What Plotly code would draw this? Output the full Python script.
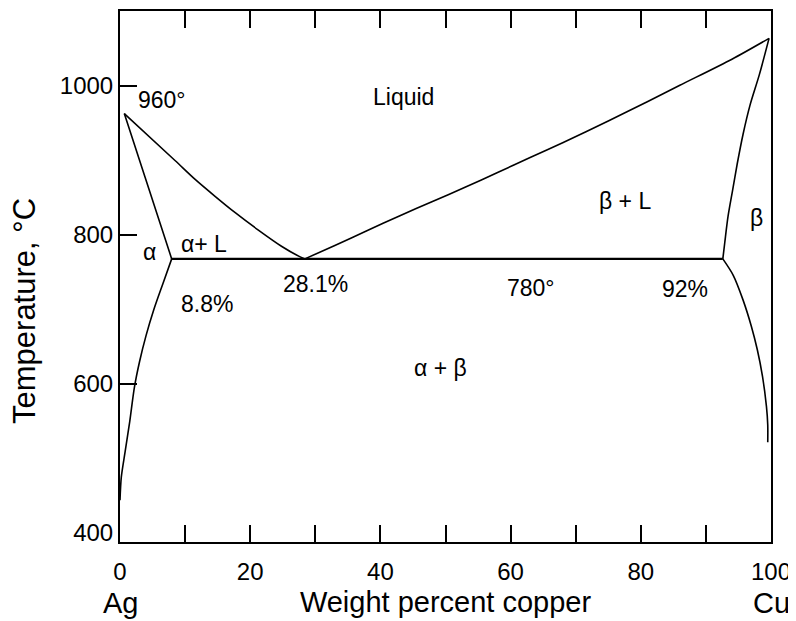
import plotly.graph_objects as go

# ---- data (wt% Cu, temperature °C) ----
ag_liquidus_x = [0.66, 8.45, 11.5, 14.6, 17.7, 21.2, 24.8, 27.6, 28.4]
ag_liquidus_y = [963, 900, 875, 852, 830, 807, 785, 771, 768]

ag_solidus_x = [0.66, 3.84, 7.94]
ag_solidus_y = [963, 878, 768]

ag_solvus_x = [7.94, 6.6, 5.2, 4.0, 3.0, 2.2, 1.5, 0.8, 0.2, 0.0]
ag_solvus_y = [768, 735, 700, 665, 630, 595, 550, 510, 475, 444]

eutectic_x = [7.94, 92.6]
eutectic_y = [768, 768]

cu_liquidus_x = [28.4, 33, 38, 43, 48, 53, 58, 63, 68, 75, 81, 86, 94, 99.7]
cu_liquidus_y = [768, 786, 806, 826, 845, 864, 884, 904, 924, 953, 979, 1001, 1036, 1064]

cu_solidus_x = [99.7, 98.2, 96.8, 95.7, 94.8, 94.1, 93.4, 92.9, 92.6]
cu_solidus_y = [1064, 1015, 975, 935, 895, 860, 825, 790, 768]

cu_solvus_x = [92.6, 94.2, 95.7, 97.0, 97.9, 98.7, 99.3, 99.5, 99.5]
cu_solvus_y = [768, 746, 713, 677, 646, 610, 570, 545, 522]

x_tickvals = [0, 20, 40, 60, 80, 100]
y_tickvals = [400, 600, 800, 1000]
y_minor_ticks = [600, 800, 1000]

labels_text = ["960°", "Liquid", "α", "α+ L", "8.8%", "28.1%", "780°", "92%", "β + L", "β", "α + β"]
labels_x = [6.45, 43.6, 4.6, 12.9, 13.4, 30.0, 63.1, 86.8, 77.6, 97.8, 49.3]
labels_y = [981, 985, 777, 788, 708, 734, 729, 727.5, 845.6, 823, 622]

FONT = "Liberation Sans, Arial, Helvetica, sans-serif"

fig = go.Figure()
line_style = dict(color="black", width=1.6)
for xs, ys in [(ag_liquidus_x, ag_liquidus_y), (ag_solidus_x, ag_solidus_y),
               (ag_solvus_x, ag_solvus_y), (cu_liquidus_x, cu_liquidus_y),
               (cu_solidus_x, cu_solidus_y), (cu_solvus_x, cu_solvus_y)]:
    fig.add_trace(go.Scatter(x=xs, y=ys, mode="lines", line=dict(line_style, shape="spline", smoothing=0.8),
                             showlegend=False, hoverinfo="skip"))
fig.add_trace(go.Scatter(x=eutectic_x, y=eutectic_y, mode="lines",
                         line=dict(color="black", width=2.2), showlegend=False, hoverinfo="skip"))

for t, x, y in zip(labels_text, labels_x, labels_y):
    fig.add_annotation(x=x, y=y, text=t, showarrow=False, xanchor="center", yanchor="middle",
                       font=dict(family=FONT, size=23, color="black"))

fig.add_annotation(x=0, y=-0.115, xref="x", yref="paper", text="Ag", showarrow=False,
                   xanchor="center", yanchor="middle", font=dict(family=FONT, size=29, color="black"))
fig.add_annotation(x=100, y=-0.115, xref="x", yref="paper", text="Cu", showarrow=False,
                   xanchor="center", yanchor="middle", font=dict(family=FONT, size=29, color="black"))
# y-axis title (placed slightly below the frame's middle, as in the reference)
fig.add_annotation(x=-0.1475, y=0.435, xref="paper", yref="paper", text="Temperature, °C",
                   textangle=-90, showarrow=False, xanchor="center", yanchor="middle",
                   font=dict(family=FONT, size=31, color="black"))

# page body adds an 8px offset; figure sized so the plot frame lands where the reference has it
fig.update_layout(
    width=788, height=613,
    margin=dict(l=112, r=25, t=3, b=79),
    paper_bgcolor="white", plot_bgcolor="white",
    font=dict(family=FONT, size=24, color="black"),
)
fig.update_xaxes(
    range=[0, 100], tickvals=x_tickvals, ticks="inside", ticklen=17, tickwidth=1.6,
    tickcolor="black", showline=True, linecolor="black", linewidth=2, mirror="ticks",
    showgrid=False, zeroline=False, tickfont=dict(size=24), automargin=False, ticklabelstandoff=7,
    minor=dict(dtick=10, tick0=0, ticks="inside", ticklen=17, tickwidth=1.6, tickcolor="black", showgrid=False),
    title=dict(text="Weight percent copper", font=dict(size=29), standoff=8),
)
fig.update_yaxes(
    range=[388, 1100.7], tickvals=y_tickvals, ticks="", showline=True, linecolor="black",
    linewidth=2, mirror=True, showgrid=False, zeroline=False, tickfont=dict(size=24), automargin=False,
    minor=dict(tickvals=y_minor_ticks, ticks="inside", ticklen=17, tickwidth=1.6, tickcolor="black", showgrid=False),
)

fig.write_html("out.html")
